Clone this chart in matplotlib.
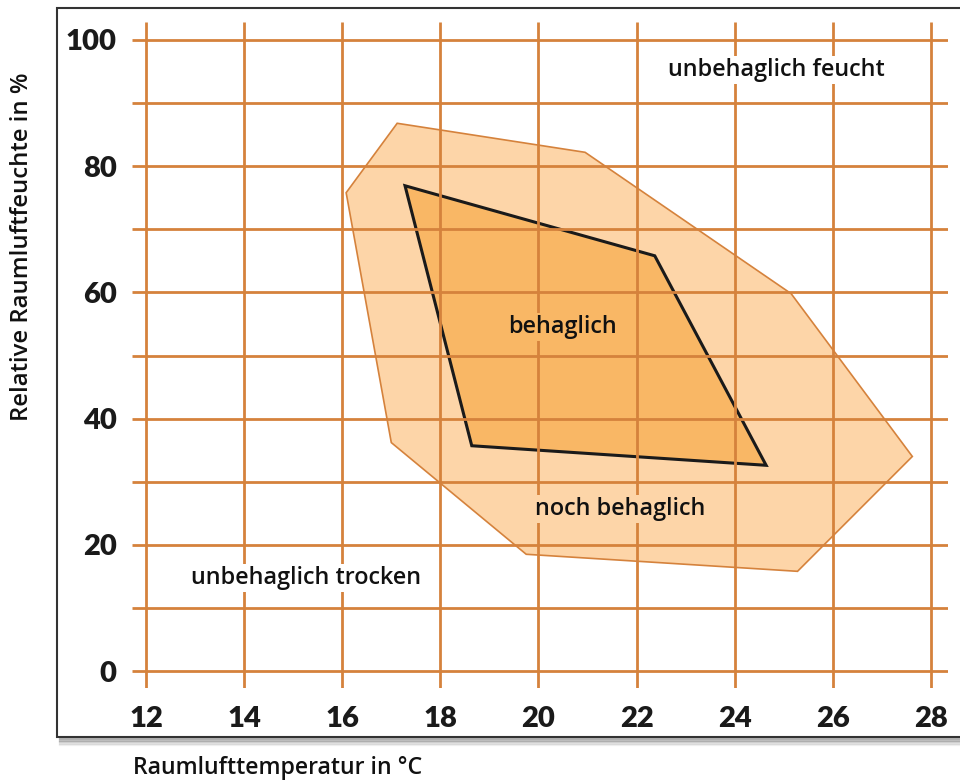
import matplotlib
matplotlib.use("Agg")
import matplotlib.pyplot as plt
from matplotlib.patches import Polygon, Rectangle
from matplotlib.lines import Line2D

# axis ticks
x_ticks = [12, 14, 16, 18, 20, 22, 24, 26, 28]
y_ticks = [0, 20, 40, 60, 80, 100]
x_grid = [12, 14, 16, 18, 20, 22, 24, 26, 28]
y_grid = [0, 10, 20, 30, 40, 50, 60, 70, 80, 90, 100]

# comfort zones (temperature in °C, rel. humidity in %)
noch_temp = [17.12, 20.95, 25.15, 27.62, 25.28, 19.75, 17.0, 16.08]
noch_hum = [86.8, 82.2, 59.8, 34.0, 15.8, 18.5, 36.2, 75.8]
beh_temp = [17.28, 22.37, 24.64, 18.64]
beh_hum = [76.9, 65.8, 32.6, 35.7]

# region labels
labels = ["unbehaglich feucht", "behaglich", "noch behaglich", "unbehaglich trocken"]
label_x = [24.84, 20.48, 21.66, 15.26]
label_y = [95.2, 54.5, 25.7, 14.7]

grid_col = "#d5823c"
noch_fill = "#fdd5a8"
beh_fill = "#f9b765"
label_bg = ["white", beh_fill, noch_fill, "white"]

fig = plt.figure(figsize=(9.6, 7.84), dpi=100)
W, H = 960, 784

# framed box with shadow
fig.patches.append(Rectangle((57 / W, 1 - 737 / H), 1.0, (737 - 8) / H,
                             transform=fig.transFigure, facecolor="white",
                             edgecolor="#333333", linewidth=1.5, zorder=-5))
for i, a in enumerate([0.6, 0.45, 0.32, 0.2, 0.1]):
    yy = 1 - (739 + i * 1.6) / H
    fig.lines.append(Line2D([60 / W, 1], [yy, yy], transform=fig.transFigure,
                            color="gray", alpha=a, linewidth=1.6, zorder=-5))

ax = fig.add_axes([132 / W, 1 - 688 / H, (948 - 132) / W, (688 - 22) / H])
ax.set_zorder(2)
ax.set_xlim(11.715, 28.347)
ax.set_ylim(-2.69, 102.85)
ax.patch.set_visible(False)
for s in ax.spines.values():
    s.set_visible(False)

ax.add_patch(Polygon(list(zip(noch_temp, noch_hum)), closed=True,
                     facecolor=noch_fill, edgecolor=grid_col, linewidth=1.2, zorder=1))
ax.add_patch(Polygon(list(zip(beh_temp, beh_hum)), closed=True,
                     facecolor=beh_fill, edgecolor="#1a1a1a", linewidth=2.2, zorder=2))

ax.vlines(x_grid, -2.69, 102.85, color=grid_col, linewidth=2.0, zorder=3)
ax.hlines(y_grid, 11.715, 28.347, color=grid_col, linewidth=2.0, zorder=3)

tick_font = dict(family="Lato", weight="heavy", size=21, color="#1a1a1a")
ax.set_xticks(x_ticks)
ax.set_xticklabels([str(v) for v in x_ticks], **tick_font)
ax.set_yticks(y_ticks)
ax.set_yticklabels([str(v) for v in y_ticks], **tick_font)
ax.tick_params(axis="x", length=0, pad=13)
ax.tick_params(axis="y", length=0, pad=11)

for txt, tx, ty, bg in zip(labels, label_x, label_y, label_bg):
    ax.text(tx, ty, txt, ha="center", va="center", family="Open Sans",
            weight="semibold", size=16.8, color="#111111", zorder=5,
            bbox=dict(facecolor=bg, edgecolor="none", pad=1.5))

fig.text(133 / W, 1 - 768 / H, "Raumlufttemperatur in °C", ha="left", va="center",
         family="Open Sans", weight="semibold", size=16.7, color="#111111")
fig.text(22 / W, 1 - 247 / H, "Relative Raumluftfeuchte in %", ha="center", va="center",
         rotation=90, family="Open Sans", weight="semibold", size=17.2, color="#111111")

fig.savefig("out.png", dpi=100)
